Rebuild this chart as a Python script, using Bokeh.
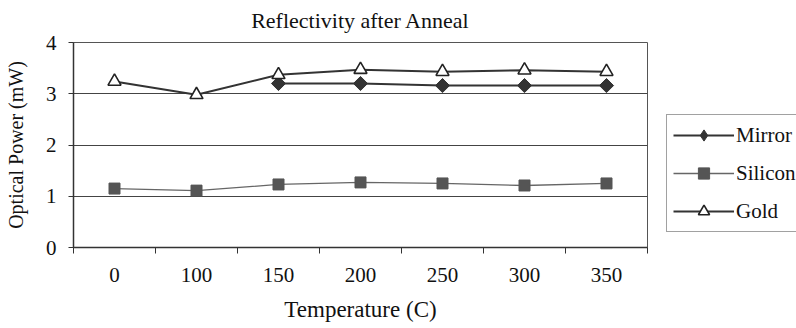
import numpy as np
from bokeh.plotting import figure
from bokeh.models import Range1d, FixedTicker, Legend, LegendItem, LinearAxis
from bokeh.embed import file_html
from bokeh.resources import INLINE

temps = ["0", "100", "150", "200", "250", "300", "350"]
mirror = [np.nan, np.nan, 3.20, 3.20, 3.16, 3.16, 3.16]
silicon = [1.15, 1.11, 1.23, 1.27, 1.25, 1.21, 1.25]
gold = [3.24, 2.98, 3.37, 3.47, 3.43, 3.46, 3.43]
y_ticks = [0, 1, 2, 3, 4]
title_text = "Reflectivity after Anneal"

FONT = "Liberation Serif"
xs = [i + 0.5 for i in range(len(temps))]

p = figure(frame_width=574, frame_height=205, output_backend="svg", toolbar_location=None,
           x_range=Range1d(0, len(temps)), y_range=Range1d(0, 4),
           min_border_left=73, min_border_right=149, min_border_top=42, min_border_bottom=81)

p.outline_line_color = "#555555"
p.outline_line_width = 1
p.background_fill_color = "white"

xa = p.below[0]
ya = p.left[0]

# title drawn as the label of a bare top axis (exact vertical placement)
top = LinearAxis(ticker=FixedTicker(ticks=[], minor_ticks=[]),
                 axis_line_color=None, major_tick_line_color=None,
                 minor_tick_line_color=None, major_label_text_font_size="0px",
                 major_tick_out=0, major_tick_in=0, minor_tick_out=0, minor_tick_in=0,
                 major_label_standoff=0,
                 axis_label=title_text)
top.axis_label_text_font = FONT
top.axis_label_text_font_size = "22px"
top.axis_label_text_font_style = "normal"
top.axis_label_text_color = "#111111"
top.axis_label_standoff = 10
p.add_layout(top, "above")

# bottom axis
xa.ticker = FixedTicker(ticks=xs, minor_ticks=list(range(len(temps) + 1)))
xa.major_label_overrides = {x: t for x, t in zip(xs, temps)}
xa.major_tick_out = 0
xa.major_tick_in = 0
xa.minor_tick_out = 6
xa.minor_tick_in = 0
xa.minor_tick_line_color = "#333333"
xa.axis_line_color = "#333333"
xa.axis_line_width = 1.5
xa.major_label_text_font = FONT
xa.major_label_text_font_size = "21px"
xa.major_label_text_color = "#111111"
xa.major_label_standoff = 14
xa.axis_label = "Temperature (C)"
xa.axis_label_text_font = FONT
xa.axis_label_text_font_size = "23px"
xa.axis_label_text_font_style = "normal"
xa.axis_label_text_color = "#111111"
xa.axis_label_standoff = 12

# left axis
ya.ticker = FixedTicker(ticks=y_ticks, minor_ticks=[])
ya.major_tick_out = 5
ya.major_tick_in = 0
ya.major_tick_line_color = "#333333"
ya.axis_line_color = "#333333"
ya.axis_line_width = 1.5
ya.major_label_text_font = FONT
ya.major_label_text_font_size = "21px"
ya.major_label_text_color = "#111111"
ya.major_label_standoff = 12
ya.axis_label = "Optical Power (mW)"
ya.axis_label_text_font = FONT
ya.axis_label_text_font_size = "20px"
ya.axis_label_text_font_style = "normal"
ya.axis_label_text_color = "#111111"
ya.axis_label_standoff = 16

p.xgrid.grid_line_color = None
p.ygrid.grid_line_color = "#444444"
p.ygrid.grid_line_width = 1
p.ygrid.ticker = FixedTicker(ticks=y_ticks)

# series
l1 = p.line(xs, mirror, line_color="#333333", line_width=2)
# tiny diamond under the plotted markers: supplies the legend's diamond swatch
d1 = p.scatter(xs, mirror, marker="diamond", size=1,
               fill_color="#333333", line_color="#333333")
s1 = p.scatter(xs, mirror, marker="square", angle=np.pi / 4, size=10,
               fill_color="#333333", line_color="#333333")

l2 = p.line(xs, silicon, line_color="#666666", line_width=1.3)
s2 = p.scatter(xs, silicon, marker="square", size=11,
               fill_color="#555555", line_color="#555555")

l3 = p.line(xs, gold, line_color="#333333", line_width=2)
s3 = p.scatter(xs, gold, marker="triangle", size=13,
               fill_color="white", line_color="#222222", line_width=1.6)

lg = Legend(items=[LegendItem(label="Mirror", renderers=[l1, d1], index=2),
                   LegendItem(label="Silicon", renderers=[l2, s2]),
                   LegendItem(label="Gold", renderers=[l3, s3])],
            location=(19, 15))
lg.border_line_color = "#444444"
lg.border_line_width = 1
lg.background_fill_color = "white"
lg.background_fill_alpha = 1
lg.label_text_font = FONT
lg.label_text_font_size = "21px"
lg.label_text_color = "#111111"
lg.glyph_width = 61
lg.glyph_height = 28
lg.spacing = 10
lg.padding = 6
lg.margin = 0
lg.label_standoff = 2
p.add_layout(lg, "right")

open("out.html", "w").write(file_html(p, INLINE))
